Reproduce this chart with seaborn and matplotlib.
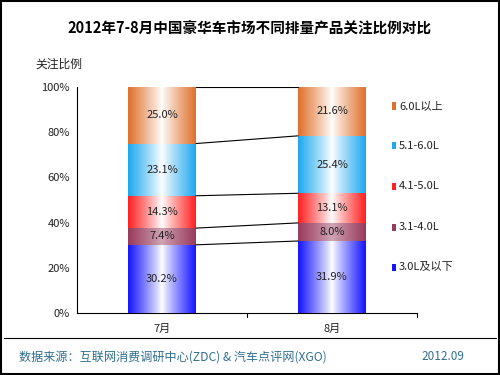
import numpy as np
import pandas as pd
import matplotlib
matplotlib.use('Agg')
import matplotlib.pyplot as plt
import matplotlib.colors as mcolors
from matplotlib.patches import Rectangle
from matplotlib.lines import Line2D
import seaborn as sns

# %% Data
months = ['7月', '8月']
segments = ['3.0L及以下', '3.1-4.0L', '4.1-5.0L', '5.1-6.0L', '6.0L以上']
jul = [30.2, 7.4, 14.3, 23.1, 25.0]
aug = [31.9, 8.0, 13.1, 25.4, 21.6]
seg_colors = ['#1414FF', '#983A5C', '#FF2020', '#1EA8EE', '#E0702C']
center_light = [1.0, 0.55, 1.0, 1.0, 1.0]

title = '2012年7-8月中国豪华车市场不同排量产品关注比例对比'
ylabel = '关注比例'
source = '数据来源：互联网消费调研中心(ZDC) & 汽车点评网(XGO)'
date = '2012.09'

# %% Style
sns.set_style('white')
plt.rcParams['font.family'] = ['Noto Sans CJK SC', 'DejaVu Sans']

df = pd.DataFrame({'month': months * len(segments),
                   'segment': [s for s in segments for _ in months],
                   'value': [v for pair in zip(jul, aug) for v in pair]})
df['cum'] = df.groupby('month')['value'].cumsum()

fig = plt.figure(figsize=(5, 3.75), dpi=100)
ax = fig.add_axes([0.154, 0.165, 0.68, 0.603])

# stacked bars: draw cumulative totals from the top layer down
bar_w = 0.4
for i in reversed(range(len(segments))):
    sub = df[df['segment'] == segments[i]]
    sns.barplot(data=sub, x='month', y='cum', order=months, color=seg_colors[i],
                width=bar_w, ax=ax, saturation=1, linewidth=0, edgecolor='none',
                zorder=2 + (len(segments) - i) * 2)

# horizontal gradient (colour at edges, white in the middle) clipped to each bar
n = len(months)
for k, patch in enumerate(ax.patches):
    seg_idx = len(segments) - 1 - k // n
    c = np.array(mcolors.to_rgb(seg_colors[seg_idx]))
    xs = np.linspace(-1, 1, 200)
    t = np.abs(xs) ** 0.9
    light = center_light[seg_idx]
    mid = c + light * (1 - c)
    row = mid[None, :] * (1 - t[:, None]) + c[None, :] * t[:, None]
    img = np.repeat(row[None, :, :], 2, axis=0)
    x0, y0 = patch.get_x(), patch.get_y()
    w, h = patch.get_width(), patch.get_height()
    im = ax.imshow(img, extent=[x0, x0 + w, y0, y0 + h], aspect='auto',
                   zorder=patch.get_zorder() + 1, interpolation='bilinear')
    im.set_clip_path(patch)

# value labels
for j, vals in enumerate([jul, aug]):
    base = 0
    for v in vals:
        ax.text(j, base + v / 2, f'{v:.1f}%', ha='center', va='center',
                fontsize=8, color='#222222', zorder=30)
        base += v

# connecting lines between the bars
cj = np.cumsum(jul)
ca = np.cumsum(aug)
for a, b in zip(cj, ca):
    ax.plot([bar_w / 2, 1 - bar_w / 2], [a, b], color='black', lw=0.8, zorder=25)

ax.set_xlim(-0.5, 1.5)
ax.set_ylim(0, 100)
ax.set_yticks(range(0, 101, 20))
ax.set_yticklabels([f'{v}%' for v in range(0, 101, 20)], fontsize=8, color='#222222')
ax.set_xticks([0, 1])
ax.set_xticklabels(months, fontsize=8, color='#222222')
ax.set_xlabel('')
ax.set_ylabel('')
ax.tick_params(axis='y', direction='out', length=3, width=0.8, color='black', pad=2)
ax.tick_params(axis='x', length=0, pad=8)
# category boundary ticks
for xb in [0.5, 1.5]:
    ax.plot([xb, xb], [0, -1.5], color='black', lw=0.8, clip_on=False)
for s in ['top', 'right']:
    ax.spines[s].set_visible(False)
for s in ['left', 'bottom']:
    ax.spines[s].set_color('black')
    ax.spines[s].set_linewidth(0.8)

# legend
leg_y = [267, 227, 186, 146, 106]
for i in range(len(segments)):
    y = 1 - leg_y[i] / 375
    fig.add_artist(Rectangle((392 / 500, y - 3.5 / 375), 4 / 500, 7 / 375,
                             transform=fig.transFigure, color=seg_colors[i], lw=0))
    fig.text(399 / 500, y, segments[i], fontsize=8, va='center', ha='left', color='#222222')

# titles and footer
fig.text(0.5, 1 - 28 / 375, title, ha='center', va='center', fontsize=10.5,
         fontweight='bold', color='black')
fig.text(35 / 500, 1 - 64 / 375, ylabel, ha='left', va='center', fontsize=8.5, color='#222222')
fig.add_artist(Line2D([4 / 500, 496 / 500], [1 - 338 / 375, 1 - 338 / 375],
                      transform=fig.transFigure, color='black', lw=0.8))
fig.text(19 / 500, 1 - 357 / 375, source, ha='left', va='center', fontsize=8.7, color='#2F6F8F')
fig.text(464 / 500, 1 - 357 / 375, date, ha='right', va='center', fontsize=8.5, color='#2F6F8F')
fig.add_artist(Rectangle((0.002, 0.003), 0.996, 0.994, transform=fig.transFigure,
                         fill=False, edgecolor='black', lw=1.5))

plt.savefig('out.png', dpi=100)
